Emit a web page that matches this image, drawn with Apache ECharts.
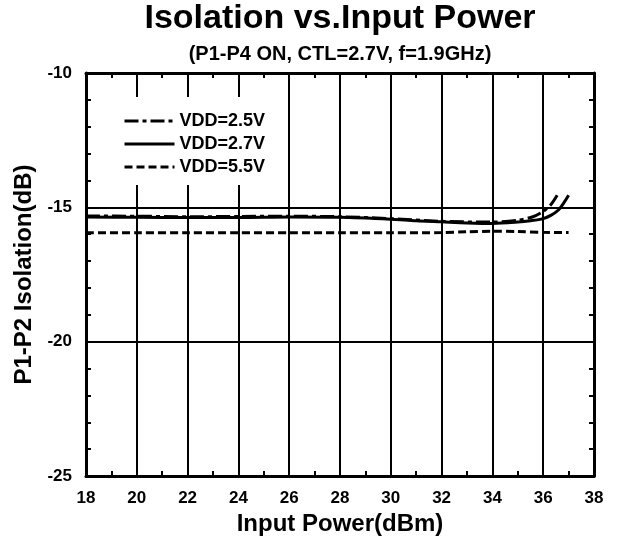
<!DOCTYPE html>
<html>
<head>
<meta charset="utf-8">
<script src="https://cdn.jsdelivr.net/npm/echarts@6/dist/echarts.min.js"></script>
<style>
  html, body { margin: 0; padding: 0; background: #fff; }
  #chart { width: 620px; height: 544px; }
</style>
</head>
<body>
<div id="chart"></div>
<script>
// input power (dBm) and isolation (dB)
var power25 = [18, 20, 22, 24, 26, 28, 30, 32, 34, 35, 35.6, 36, 36.3, 36.55];
var vdd25 = [-15.32, -15.33, -15.35, -15.34, -15.33, -15.35, -15.42, -15.52, -15.55, -15.48, -15.35, -15.15, -14.9, -14.55];

var power27 = [18, 20, 22, 24, 26, 28, 30, 31, 32, 33, 34, 35, 35.5, 36, 36.3, 36.6, 36.8, 37];
var vdd27 = [-15.36, -15.37, -15.38, -15.38, -15.36, -15.37, -15.44, -15.5, -15.54, -15.58, -15.6, -15.55, -15.5, -15.42, -15.3, -15.1, -14.85, -14.55];

var power55 = [18, 20, 22, 24, 26, 28, 30, 32, 33, 34, 35, 36, 37];
var vdd55 = [-15.95, -15.95, -15.95, -15.95, -15.95, -15.95, -15.95, -15.94, -15.91, -15.89, -15.9, -15.93, -15.94];

var seriesNames = ["VDD=2.5V", "VDD=2.7V", "VDD=5.5V"];

function pairs(xs, ys) {
  return xs.map(function (x, i) { return [x, ys[i]]; });
}

var font = "'Liberation Sans', Arial, sans-serif";

var chart = echarts.init(document.getElementById("chart"));

var xBase = {
  type: "value",
  min: 18,
  max: 38,
  interval: 2,
  axisLine: { show: true, lineStyle: { color: "#000", width: 3 } },
  axisTick: { show: false, inside: true },
  minorTick: { show: true, splitNumber: 2, length: 5, lineStyle: { color: "#000", width: 2 } },
  minorSplitLine: { show: false }
};
var yBase = {
  type: "value",
  min: -25,
  max: -10,
  interval: 5,
  axisLine: { show: true, lineStyle: { color: "#000", width: 3 } },
  axisTick: { show: false, inside: true },
  minorTick: { show: true, splitNumber: 5, length: 5, lineStyle: { color: "#000", width: 2 } },
  minorSplitLine: { show: false }
};

var option = {
  animation: false,
  backgroundColor: "#fff",
  title: {
    text: "Isolation vs.Input Power",
    subtext: "(P1-P4 ON, CTL=2.7V, f=1.9GHz)",
    left: 340,
    textAlign: "center",
    top: 2,
    padding: 0,
    itemGap: 8,
    textStyle: { fontFamily: font, fontWeight: "bold", fontSize: 34, color: "#000" },
    subtextStyle: { fontFamily: font, fontWeight: "bold", fontSize: 20, color: "#000" }
  },
  // white box hides the grid lines behind the key, as in the original
  legend: {
    data: seriesNames,
    orient: "vertical",
    left: 93,
    top: 97,
    padding: [15, 10, 9, 30],
    backgroundColor: "#fff",
    itemWidth: 50,
    itemHeight: 14,
    itemGap: 5,
    selectedMode: false,
    itemStyle: { color: "rgba(0,0,0,0)", borderWidth: 0, opacity: 0 },
    lineStyle: { width: 3 },
    textStyle: { fontFamily: font, fontWeight: "bold", fontSize: 18, color: "#000" }
  },
  grid: { left: 86, right: 26, top: 73, bottom: 68, containLabel: false },
  xAxis: [
    Object.assign({}, xBase, {
      position: "bottom",
      name: "Input Power(dBm)",
      nameLocation: "middle",
      nameGap: 34,
      nameTextStyle: { fontFamily: font, fontWeight: "bold", fontSize: 24, color: "#000" },
      axisLabel: { margin: 14, fontFamily: font, fontWeight: "bold", fontSize: 17, color: "#000" },
      splitLine: { show: true, lineStyle: { color: "#000", width: 2 } }
    }),
    Object.assign({}, xBase, {
      position: "top",
      axisLabel: { show: false },
      splitLine: { show: false }
    })
  ],
  yAxis: [
    Object.assign({}, yBase, {
      position: "left",
      name: "P1-P2 Isolation(dB)",
      nameLocation: "middle",
      nameGap: 45,
      nameTextStyle: { fontFamily: font, fontWeight: "bold", fontSize: 24, color: "#000" },
      axisLabel: { margin: 14, fontFamily: font, fontWeight: "bold", fontSize: 17, color: "#000" },
      splitLine: { show: true, lineStyle: { color: "#000", width: 2 } }
    }),
    Object.assign({}, yBase, {
      position: "right",
      axisLabel: { show: false },
      splitLine: { show: false }
    })
  ],
  series: [
    {
      name: seriesNames[0],
      type: "line",
      data: pairs(power25, vdd25),
      smooth: 0.3,
      showSymbol: false,
      lineStyle: { color: "#000", width: 3, type: [14, 4, 4, 4] },
      itemStyle: { color: "#000" },
      z: 4
    },
    {
      name: seriesNames[1],
      type: "line",
      data: pairs(power27, vdd27),
      smooth: 0.3,
      showSymbol: false,
      lineStyle: { color: "#000", width: 3, type: "solid" },
      itemStyle: { color: "#000" },
      z: 3
    },
    {
      name: seriesNames[2],
      type: "line",
      data: pairs(power55, vdd55),
      smooth: 0.3,
      showSymbol: false,
      lineStyle: { color: "#000", width: 3, type: [8, 4] },
      itemStyle: { color: "#000" },
      z: 3
    }
  ]
};

chart.setOption(option);
</script>
</body>
</html>
